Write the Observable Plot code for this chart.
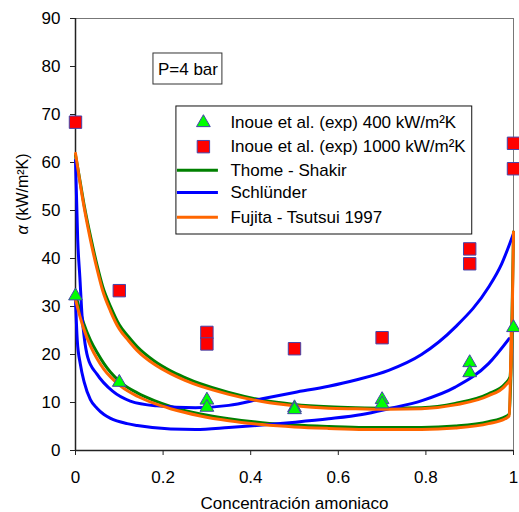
<!DOCTYPE html>
<html>
<head>
<meta charset="utf-8">
<script src="https://cdn.jsdelivr.net/npm/d3@7"></script>
<script src="https://cdn.jsdelivr.net/npm/@observablehq/plot@0.6"></script>
<style>
  html, body { margin: 0; padding: 0; background: #fff; }
</style>
</head>
<body>
<div id="chart"></div>
<script>
// ---- tick labels ----
const xTicks = [0, 0.2, 0.4, 0.6, 0.8, 1];
const xTickLabels = ["0", "0.2", "0.4", "0.6", "0.8", "1"];
const yTicks = [0, 10, 20, 30, 40, 50, 60, 70, 80, 90];

// ---- experimental points (Inoue et al.) ----
const exp400X = [0, 0.1, 0.3, 0.3, 0.5, 0.5, 0.7, 0.7, 0.9, 0.9, 1];
const exp400Y = [32.2, 14.2, 10.5, 9.0, 8.9, 8.5, 10.6, 9.7, 18.3, 16.2, 25.6];
const exp1000X = [0, 0.1, 0.3, 0.3, 0.5, 0.7, 0.9, 0.9, 1, 1];
const exp1000Y = [68.4, 33.3, 24.6, 22.2, 21.2, 23.5, 42.0, 38.9, 64.0, 58.7];

// ---- correlation curves [x, alpha] ----
const thome1000 = [[0,61.5],[0.01,56.3],[0.02,51],[0.035,44.3],[0.05,38.3],[0.062,34.2],[0.08,30],[0.1,26.2],[0.12,23.8],[0.141,21.6],[0.179,18.7],[0.217,16.6],[0.25,15.2],[0.285,13.9],[0.35,12.1],[0.426,10.5],[0.5,9.6],[0.578,9.1],[0.64,8.9],[0.715,8.8],[0.79,8.9],[0.867,9.8],[0.943,11.8],[0.981,13.9],[0.992,15.3],[1,45.5]];
const thome400 = [[0,32.5],[0.01,29.2],[0.019,26.4],[0.034,23],[0.05,20.3],[0.065,18.1],[0.08,16.3],[0.103,14.2],[0.141,12],[0.18,10.4],[0.217,9.2],[0.285,7.6],[0.35,6.6],[0.426,5.8],[0.5,5.3],[0.578,5],[0.66,4.8],[0.79,4.8],[0.867,5.1],[0.943,6],[0.981,7],[0.99,7.6],[0.997,25.5]];
const schlunder1000 = [[0,60.5],[0.005,44],[0.01,36],[0.015,28],[0.02,23.5],[0.028,19.4],[0.049,15.9],[0.084,12.4],[0.125,10.3],[0.186,9.3],[0.274,8.9],[0.35,9.4],[0.426,10.8],[0.5,12.1],[0.578,13.4],[0.64,14.7],[0.715,16.7],[0.79,20.0],[0.867,25.7],[0.943,34.0],[0.973,38.9],[1,45.2]];
const schlunder400 = [[0,31.5],[0.004,23],[0.011,18],[0.02,14.2],[0.034,10.6],[0.049,8.8],[0.065,7.5],[0.08,6.7],[0.118,5.6],[0.141,5.2],[0.217,4.5],[0.274,4.4],[0.35,4.8],[0.426,5.3],[0.502,5.9],[0.578,6.6],[0.654,7.5],[0.715,8.7],[0.791,10.4],[0.867,13.2],[0.943,18.1],[0.99,23.3]];
const fujita1000 = [[0,61.9],[0.01,56],[0.02,50.5],[0.035,43.5],[0.05,37.5],[0.062,33.3],[0.08,29],[0.1,25.3],[0.12,23],[0.141,20.8],[0.179,18],[0.217,16],[0.25,14.6],[0.285,13.4],[0.35,11.7],[0.426,10.2],[0.5,9.3],[0.578,8.8],[0.64,8.7],[0.715,8.6],[0.79,8.7],[0.867,9.5],[0.943,11.4],[0.981,13.5],[0.993,15],[1,45.5]];
const fujita400 = [[0,31.5],[0.01,28],[0.019,25.3],[0.034,21.8],[0.05,19],[0.065,16.9],[0.08,15.3],[0.103,13.4],[0.141,11.3],[0.18,9.8],[0.217,8.7],[0.285,7.2],[0.35,6.2],[0.426,5.4],[0.5,4.9],[0.578,4.6],[0.66,4.4],[0.79,4.4],[0.867,4.7],[0.943,5.6],[0.981,6.6],[0.99,7.2],[0.995,25.7]];

// ---- legend & annotation ----
const legendLabels = ["Inoue et al. (exp) 400 kW/m²K", "Inoue et al. (exp) 1000 kW/m²K", "Thome - Shakir", "Schlünder", "Fujita - Tsutsui 1997"];
const legendRowY = [68.3, 63.3, 58.4, 53.75, 48.6];
const annotationText = "P=4 bar";
const xLabel = "Concentración amoniaco";
const yLabel = "α (kW/m²K)";

const GREEN = "#008000", BLUE = "#0000ff", ORANGE = "#ff6600";
const TRI_FILL = "#00ff00", SQ_FILL = "#ff0000", MARK_STROKE = "#4444aa";

const exp400 = exp400X.map((x, i) => ({x, y: exp400Y[i]}));
const exp1000 = exp1000X.map((x, i) => ({x, y: exp1000Y[i]}));

const legendBox = [{x1: 0.2304, x2: 0.9058, y1: 45.0, y2: 71.67}];
const annBox = [{x1: 0.178, x2: 0.3354, y1: 76.25, y2: 82.71, xc: 0.2567, yc: 79.3, label: annotationText}];
const legendSym = [
  {x: 0.292, y: legendRowY[0]},
  {x: 0.292, y: legendRowY[1]}
];
const legendLines = [
  {x1: 0.2327, x2: 0.3263, y: legendRowY[2], stroke: GREEN},
  {x1: 0.2327, x2: 0.3263, y: legendRowY[3], stroke: BLUE},
  {x1: 0.2327, x2: 0.3263, y: legendRowY[4], stroke: ORANGE}
];
const legendText = legendLabels.map((t, i) => ({x: 0.3536, y: legendRowY[i], t}));

const lineOpts = (stroke) => ({x: d => d[0], y: d => d[1], stroke, strokeWidth: 3, curve: "monotone-x"});

const plot = Plot.plot({
  width: 519,
  height: 512,
  marginLeft: 75,
  marginRight: 6,
  marginTop: 18,
  marginBottom: 62,
  x: {domain: [0, 1]},
  y: {domain: [0, 90]},
  style: {fontFamily: "'Liberation Sans', Arial, sans-serif", fontSize: "17px", color: "#000", background: "#fff"},
  marks: [
    Plot.frame({stroke: "#777"}),
    Plot.axisY({ticks: yTicks, tickSize: 5, tickPadding: 10, label: null, stroke: "#222"}),
    Plot.axisX({ticks: xTicks, tickFormat: (d) => xTickLabels[xTicks.indexOf(d)], tickSize: 5, tickPadding: 15, label: null, stroke: "#222"}),
    Plot.ruleX([0], {stroke: "#222", strokeWidth: 1.5}),
    Plot.ruleY([0], {stroke: "#222", strokeWidth: 1.5}),
    Plot.text([xLabel], {frameAnchor: "bottom", dy: 58, fontSize: 17}),
    Plot.text([yLabel], {frameAnchor: "left", rotate: -90, dx: -53, fontSize: 16, className: "ylab"}),
    // annotation box
    Plot.rect(annBox, {x1: "x1", x2: "x2", y1: "y1", y2: "y2", fill: "#fff", stroke: "#333", strokeWidth: 1}),
    Plot.text(annBox, {x: "xc", y: "yc", text: "label", fontSize: 17}),
    // legend
    Plot.rect(legendBox, {x1: "x1", x2: "x2", y1: "y1", y2: "y2", fill: "#fff", stroke: "#111", strokeWidth: 1}),
    Plot.ruleY(legendLines, {x1: "x1", x2: "x2", y: "y", stroke: d => d.stroke, strokeWidth: 3}),
    Plot.dot(legendSym.slice(0, 1), {x: "x", y: "y", symbol: "triangle", r: 5.1, fill: TRI_FILL, stroke: MARK_STROKE, strokeWidth: 1}),
    Plot.dot(legendSym.slice(1, 2), {x: "x", y: "y", symbol: "square", r: 7, fill: SQ_FILL, stroke: MARK_STROKE, strokeWidth: 1}),
    Plot.text(legendText, {x: "x", y: "y", text: "t", textAnchor: "start", fontSize: 17}),
    // curves
    Plot.line(thome1000, lineOpts(GREEN)),
    Plot.line(thome400, lineOpts(GREEN)),
    Plot.line(schlunder1000, lineOpts(BLUE)),
    Plot.line(schlunder400, lineOpts(BLUE)),
    Plot.line(fujita1000, lineOpts(ORANGE)),
    Plot.line(fujita400, lineOpts(ORANGE)),
    // experimental markers
    Plot.dot(exp1000, {x: "x", y: "y", symbol: "square", r: 7, fill: SQ_FILL, stroke: MARK_STROKE, strokeWidth: 1}),
    Plot.dot(exp400, {x: "x", y: "y", symbol: "triangle", r: 5.1, fill: TRI_FILL, stroke: MARK_STROKE, strokeWidth: 1})
  ]
});
document.getElementById("chart").appendChild(plot);

// italic alpha in the y label, like the original Symbol-font glyph
d3.select(plot).selectAll("g.ylab text").each(function() {
  const t = d3.select(this);
  const s = t.text();
  if (s.startsWith("α")) {
    t.text(null);
    t.append("tspan").attr("font-style", "italic").text("α");
    t.append("tspan").text(s.slice(1));
  }
});
</script>
</body>
</html>
